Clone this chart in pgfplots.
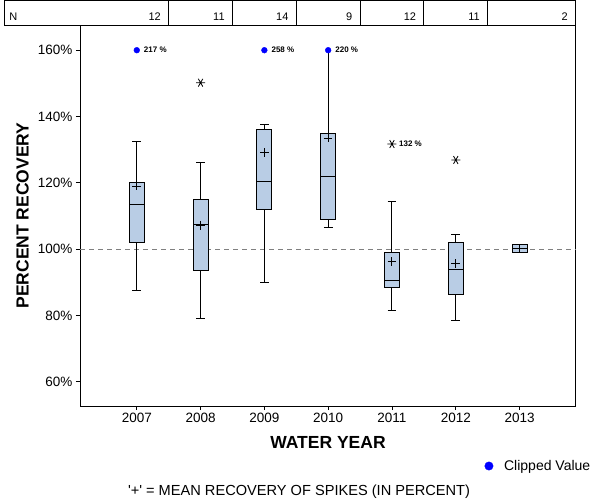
\documentclass[border=0pt]{standalone}
\usepackage{fontspec}
\setmainfont{Liberation Sans}
\newfontfamily\rawsans{Liberation Sans}
\usepackage{pgfplots}
\pgfplotsset{compat=1.18}
\definecolor{boxfill}{RGB}{185,205,229}
\begin{document}
\begin{tikzpicture}
\begin{axis}[
  at={(80bp,-406bp)}, anchor=south west,
  scale only axis, width=495.7bp, height=381bp,
  xmin=-0.89, xmax=6.88, ymin=52.7, ymax=167.6,
  clip=false,
  axis line style={line width=1bp},
  tick pos=left, tick align=outside, major tick length=4bp,
  tick style={line width=0.8bp, black},
  xtick={0,1,2,3,4,5,6},
  xticklabels={2007,2008,2009,2010,2011,2012,2013},
  ytick={60,80,100,120,140,160},
  /pgf/number format/assume math mode=true,
  xticklabel style={font=\fontsize{13.5bp}{16bp}\selectfont},
  yticklabel={\pgfmathprintnumber{\tick}\%},
  yticklabel style={font=\fontsize{13.5bp}{16bp}\selectfont},
  legend style={at={(rel axis cs:0.8165,-0.1575)}, anchor=west, draw=none, fill=none,
    inner sep=0pt, outer sep=0pt, column sep=9bp,
    font=\fontsize{14bp}{16bp}\selectfont},
  legend cell align=left,
  legend image code/.code={\draw[#1, mark size=4.2bp] plot coordinates {(0bp,0bp)};},
  boxst/.style={forget plot, draw=black, fill=boxfill, line width=1bp, line join=miter, mark=none},
  linest/.style={forget plot, draw=black, line width=1bp, mark=none, unbounded coords=jump},
]
% reference line
\addplot[forget plot, color={rgb,255:red,128;green,128;blue,128}, line width=0.8bp, dash pattern=on 5bp off 4bp] coordinates {(-0.89,100) (6.88,100)};

% whiskers and caps
\addplot[linest] coordinates {
 (0,87.4) (0,132.5) (0,nan) (-0.068,87.4) (0.068,87.4) (0,nan) (-0.068,132.5) (0.068,132.5) (0,nan)
 (1,79.1) (1,126.2) (1,nan) (0.932,79.1) (1.068,79.1) (1,nan) (0.932,126.2) (1.068,126.2) (1,nan)
 (2,89.8) (2,137.7) (2,nan) (1.932,89.8) (2.068,89.8) (2,nan) (1.932,137.7) (2.068,137.7) (2,nan)
 (3,106.4) (3,160) (3,nan) (2.932,106.4) (3.068,106.4) (3,nan)
 (4,81.6) (4,114.4) (4,nan) (3.932,81.6) (4.068,81.6) (4,nan) (3.932,114.4) (4.068,114.4) (4,nan)
 (5,78.6) (5,104.5) (5,nan) (4.932,78.6) (5.068,78.6) (5,nan) (4.932,104.5) (5.068,104.5)
};

% boxes (lower quartile to upper quartile)
\addplot[boxst] coordinates {(-0.1175,102.1) (0.1175,102.1) (0.1175,120.2) (-0.1175,120.2)} -- cycle;
\addplot[boxst] coordinates {(0.8825,93.6) (1.1175,93.6) (1.1175,115.0) (0.8825,115.0)} -- cycle;
\addplot[boxst] coordinates {(1.8825,112.0) (2.1175,112.0) (2.1175,136.2) (1.8825,136.2)} -- cycle;
\addplot[boxst] coordinates {(2.8825,109.0) (3.1175,109.0) (3.1175,135.0) (2.8825,135.0)} -- cycle;
\addplot[boxst] coordinates {(3.8825,88.5) (4.1175,88.5) (4.1175,99.1) (3.8825,99.1)} -- cycle;
\addplot[boxst] coordinates {(4.8825,86.4) (5.1175,86.4) (5.1175,102.1) (4.8825,102.1)} -- cycle;
\addplot[boxst] coordinates {(5.8825,99.1) (6.1175,99.1) (6.1175,101.5) (5.8825,101.5)} -- cycle;

% medians
\addplot[linest] coordinates {
 (-0.1175,113.5) (0.1175,113.5) (0,nan)
 (0.8825,107.3) (1.1175,107.3) (1,nan)
 (1.8825,120.5) (2.1175,120.5) (2,nan)
 (2.8825,122.0) (3.1175,122.0) (3,nan)
 (3.8825,90.6) (4.1175,90.6) (4,nan)
 (4.8825,94.0) (5.1175,94.0) (5,nan)
 (5.8825,100.3) (6.1175,100.3)
};

% means
\addplot[forget plot, only marks, mark=+, mark size=4.3bp, black, mark options={line width=1bp}]
  coordinates {(0,119.0) (1,107.2) (2,129.2) (3,133.5) (4,96.3) (5,95.7)};
\addplot[forget plot, only marks, mark=|, mark size=3.9bp, black, mark options={line width=1bp}]
  coordinates {(6,100.3)};

% outliers
\addplot[forget plot, only marks, mark=asterisk, mark size=4.5bp, black, mark options={line width=0.8bp, rotate=90}]
  coordinates {(1,150.2) (4,131.7) (5,126.9)};
\node[anchor=west, inner sep=0pt, xshift=7bp, font=\bfseries\fontsize{8bp}{9bp}\selectfont] at (axis cs:4,131.7) {132 \%};

% clipped values
\addplot[only marks, mark=*, mark size=2.9bp, color=blue,
  nodes near coords, point meta=explicit symbolic,
  nodes near coords style={anchor=west, black, inner sep=0pt, xshift=7bp, font=\bfseries\fontsize{8bp}{9bp}\selectfont}]
  coordinates {(0,160) [217 \%] (2,160) [258 \%] (3,160) [220 \%]};
\addlegendentry{Clipped Value}

% N table
\draw[line width=1bp] (axis cs:-2.075,167.6) rectangle (axis cs:6.88,175.1);
\draw[line width=1bp] (axis cs:0.5,167.6) -- (axis cs:0.5,175.1);
\draw[line width=1bp] (axis cs:1.5,167.6) -- (axis cs:1.5,175.1);
\draw[line width=1bp] (axis cs:2.5,167.6) -- (axis cs:2.5,175.1);
\draw[line width=1bp] (axis cs:3.5,167.6) -- (axis cs:3.5,175.1);
\draw[line width=1bp] (axis cs:4.5,167.6) -- (axis cs:4.5,175.1);
\draw[line width=1bp] (axis cs:5.5,167.6) -- (axis cs:5.5,175.1);
\node[anchor=base west, inner sep=0pt, font=\fontsize{11bp}{13bp}\selectfont] at (axis cs:-2.0,169.1) {N};
\node[anchor=base east, inner sep=0pt, font=\fontsize{11bp}{13bp}\selectfont] at (axis cs:0.38,169.1) {12};
\node[anchor=base east, inner sep=0pt, font=\fontsize{11bp}{13bp}\selectfont] at (axis cs:1.38,169.1) {11};
\node[anchor=base east, inner sep=0pt, font=\fontsize{11bp}{13bp}\selectfont] at (axis cs:2.38,169.1) {14};
\node[anchor=base east, inner sep=0pt, font=\fontsize{11bp}{13bp}\selectfont] at (axis cs:3.38,169.1) {9};
\node[anchor=base east, inner sep=0pt, font=\fontsize{11bp}{13bp}\selectfont] at (axis cs:4.38,169.1) {12};
\node[anchor=base east, inner sep=0pt, font=\fontsize{11bp}{13bp}\selectfont] at (axis cs:5.38,169.1) {11};
\node[anchor=base east, inner sep=0pt, font=\fontsize{11bp}{13bp}\selectfont] at (axis cs:6.76,169.1) {2};
\end{axis}
\node[rotate=90, inner sep=0pt, font=\bfseries\fontsize{17.5bp}{20bp}\selectfont] at (22.5bp,-215.5bp) {PERCENT RECOVERY};
\node[inner sep=0pt, font=\bfseries\fontsize{17.5bp}{20bp}\selectfont] at (328bp,-442.7bp) {WATER YEAR};
\node[inner sep=0pt, font=\rawsans\fontsize{14.6bp}{17bp}\selectfont] at (299bp,-491.3bp) {'+' = MEAN RECOVERY OF SPIKES (IN PERCENT)};
\pgfresetboundingbox
\path (0bp,0bp) rectangle (600bp,-500bp);
\end{tikzpicture}
\end{document}
